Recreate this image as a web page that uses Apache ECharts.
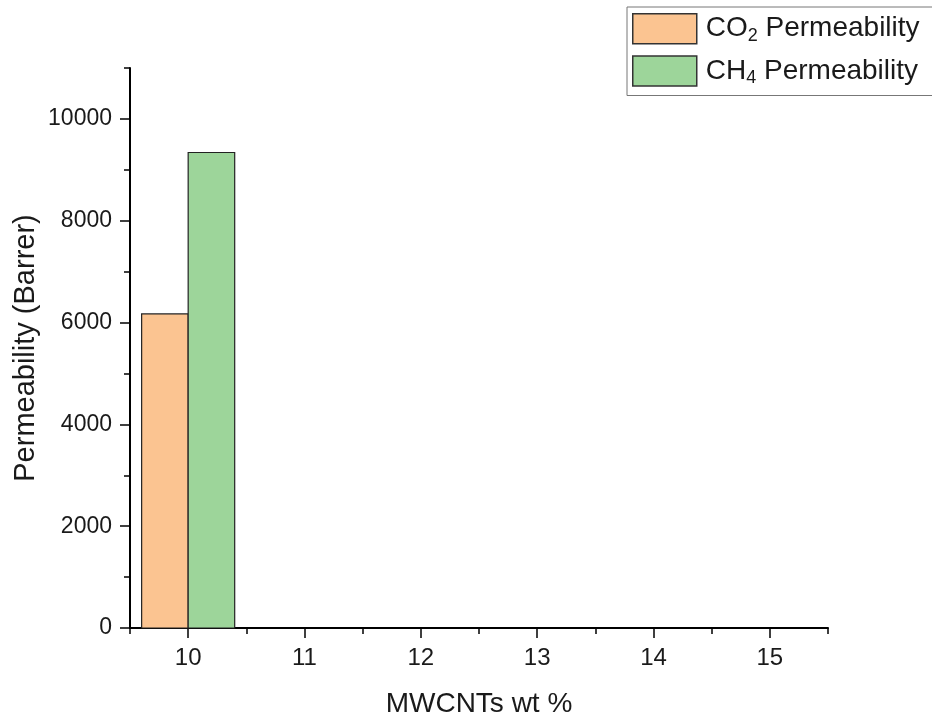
<!DOCTYPE html>
<html>
<head>
<meta charset="utf-8">
<script src="https://cdn.jsdelivr.net/npm/echarts@6/dist/echarts.min.js"></script>
<style>
  html, body { margin: 0; padding: 0; background: #fff; }
  #chart { width: 932px; height: 715px; }
</style>
</head>
<body>
<div id="chart"></div>
<script>
const xValues = [10]
const co2Permeability = [6170]
const ch4Permeability = [9340]
const xTickValues = [10, 11, 12, 13, 14, 15]
const yTickValues = [0, 2000, 4000, 6000, 8000, 10000]
const seriesNames = ['CO2 Permeability', 'CH4 Permeability']

const FONT = "'Liberation Sans', Arial, sans-serif"
const INK = '#1a1a1a'
const BAR_W = 0.4

// bars drawn beside the x value: CO2 on the left, CH4 on the right
function barRenderer(side) {
  return function (params, api) {
    const x = api.value(0)
    const v = api.value(1)
    const x0 = side < 0 ? x - BAR_W : x
    const x1 = side < 0 ? x : x + BAR_W
    const p0 = api.coord([x0, v])
    const p1 = api.coord([x1, 0])
    return {
      type: 'rect',
      shape: { x: p0[0], y: p0[1], width: p1[0] - p0[0], height: p1[1] - p0[1] },
      style: api.style()
    }
  }
}

// "CO2 Permeability" -> CO{sub 2} Permeability
function legendText(name) {
  const m = name.match(/^([A-Z]+)(\d)(.*)$/)
  return '{f|' + m[1] + '}{s|' + m[2] + '}{n|' + m[3] + '}'
}

const chart = echarts.init(document.getElementById('chart'))
chart.setOption({
  backgroundColor: '#fff',
  textStyle: { fontFamily: FONT },
  grid: { left: 130, right: 104, top: 68, bottom: 87, outerBoundsMode: 'none' },
  legend: {
    orient: 'vertical',
    left: 627,
    top: 7,
    padding: [6, 30, 8, 5],
    itemWidth: 64,
    itemHeight: 30,
    itemGap: 10,
    borderColor: '#777',
    borderWidth: 1,
    backgroundColor: '#fff',
    itemStyle: { borderColor: '#333', borderWidth: 1.5 },
    data: seriesNames.map(n => ({ name: n, icon: 'rect' })),
    formatter: legendText,
    textStyle: {
      rich: {
        f: { fontSize: 28, color: INK, fontFamily: FONT, padding: [0, 0, 0, 4] },
        n: { fontSize: 28, color: INK, fontFamily: FONT },
        s: { fontSize: 18, color: INK, fontFamily: FONT, verticalAlign: 'bottom', padding: [15, 0, 0, 0] }
      }
    }
  },
  xAxis: [
    {
      type: 'value',
      min: 9.5,
      max: 15.5,
      interval: 0.5,
      name: 'MWCNTs wt %',
      nameLocation: 'middle',
      nameGap: 62,
      nameTextStyle: { fontSize: 28, color: INK },
      axisLine: { show: true, onZero: false, lineStyle: { color: '#000', width: 2 } },
      axisTick: { show: true, length: 6, lineStyle: { color: '#000', width: 1.5 } },
      axisLabel: { show: false },
      splitLine: { show: false }
    },
    {
      type: 'value',
      min: 9.5,
      max: 15.5,
      position: 'bottom',
      axisLine: { show: false },
      axisTick: { show: true, length: 10, customValues: xTickValues, lineStyle: { color: '#000', width: 1.5 } },
      axisLabel: { customValues: xTickValues, fontSize: 24, color: INK, margin: 18, formatter: v => String(v) },
      splitLine: { show: false }
    }
  ],
  yAxis: [
    {
      type: 'value',
      min: 0,
      max: 11000,
      interval: 1000,
      name: 'Permeability (Barrer)',
      nameLocation: 'middle',
      nameGap: 90,
      nameTextStyle: { fontSize: 29, color: INK },
      axisLine: { show: true, onZero: false, lineStyle: { color: '#000', width: 2 } },
      axisTick: { show: true, length: 6, lineStyle: { color: '#000', width: 1.5 } },
      axisLabel: { show: false },
      splitLine: { show: false }
    },
    {
      type: 'value',
      min: 0,
      max: 11000,
      position: 'left',
      axisLine: { show: false },
      axisTick: { show: true, length: 10, customValues: yTickValues, lineStyle: { color: '#000', width: 1.5 } },
      axisLabel: { customValues: yTickValues, fontSize: 23, color: INK, margin: 18, formatter: v => String(v) },
      splitLine: { show: false }
    }
  ],
  series: [
    {
      name: seriesNames[0],
      type: 'custom',
      renderItem: barRenderer(-1),
      itemStyle: { color: '#fbc491', borderColor: '#222', borderWidth: 1.2 },
      encode: { x: 0, y: 1 },
      data: xValues.map((x, i) => [x, co2Permeability[i]])
    },
    {
      name: seriesNames[1],
      type: 'custom',
      renderItem: barRenderer(1),
      itemStyle: { color: '#9dd59a', borderColor: '#222', borderWidth: 1.2 },
      encode: { x: 0, y: 1 },
      data: xValues.map((x, i) => [x, ch4Permeability[i]])
    }
  ]
})
</script>
</body>
</html>
